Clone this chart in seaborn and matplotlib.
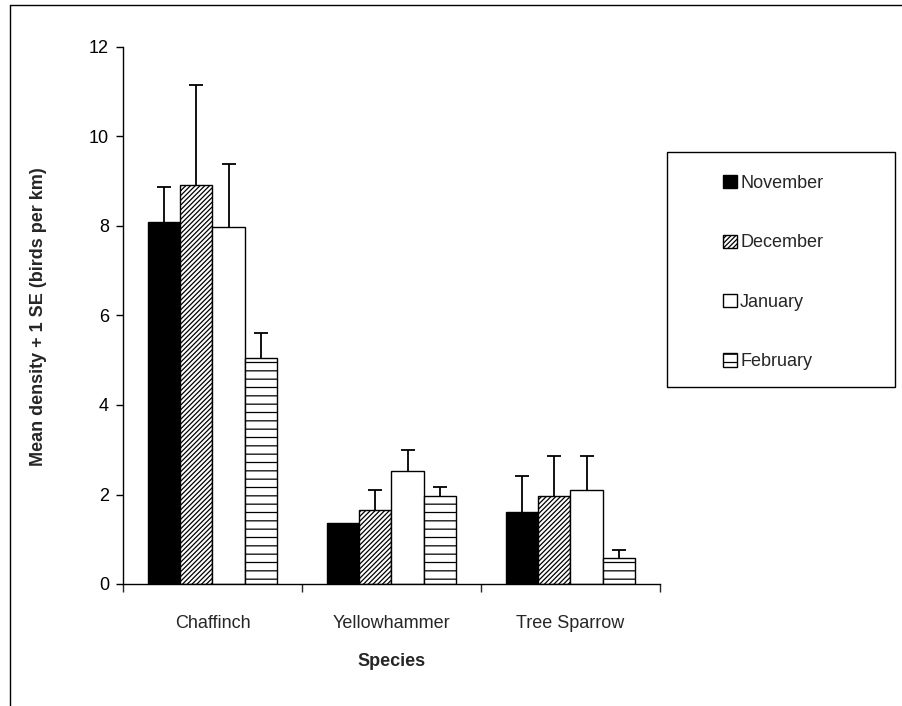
import numpy as np
import pandas as pd
import matplotlib
matplotlib.use("Agg")
import matplotlib.pyplot as plt
from matplotlib.patches import Patch, Rectangle
from matplotlib.lines import Line2D
import seaborn as sns

species = ["Chaffinch", "Yellowhammer", "Tree Sparrow"]
months = ["November", "December", "January", "February"]
nov = [8.10, 1.37, 1.62]
dec = [8.92, 1.65, 1.96]
jan = [7.97, 2.52, 2.09]
feb = [5.05, 1.97, 0.58]
nov_se = [0.78, 0.0, 0.80]
dec_se = [2.22, 0.44, 0.89]
jan_se = [1.41, 0.48, 0.76]
feb_se = [0.56, 0.20, 0.17]

means = [nov, dec, jan, feb]
ses = [nov_se, dec_se, jan_se, feb_se]
rows = []
for m, vals, es in zip(months, means, ses):
    for s, v, e in zip(species, vals, es):
        rows.append({"Species": s, "Month": m, "Density": v, "SE": e})
df = pd.DataFrame(rows)

sns.set_style("ticks")
plt.rcParams["font.family"] = ["Liberation Sans", "DejaVu Sans"]
plt.rcParams["hatch.linewidth"] = 0.9

fig = plt.figure(figsize=(9.03, 7.06), dpi=100)
W, H = 903, 706
ax = fig.add_axes([123 / W, 1 - 584 / H, (660 - 123) / W, (584 - 47) / H])

palette = {"November": "black", "December": "white", "January": "white", "February": "white"}
hatches = {"November": "", "December": "///////", "January": "", "February": "--"}

sns.barplot(data=df, x="Species", y="Density", hue="Month", order=species,
            hue_order=months, palette=palette, edgecolor="black", linewidth=1.0,
            width=0.725, errorbar=None, legend=False, saturation=1, ax=ax)

for cont, m, es in zip(ax.containers, months, ses):
    for bar, e in zip(cont, es):
        bar.set_hatch(hatches[m])
        bar.set_edgecolor("black")
        x = bar.get_x() + bar.get_width() / 2
        y = bar.get_height()
        if e <= 0:
            continue
        _, caps, _ = ax.errorbar([x], [y], yerr=[[0], [e]], fmt="none", ecolor="black",
                                 elinewidth=1.3, capsize=4.7, capthick=1.3, zorder=1)
        for c in caps:
            if np.allclose(c.get_ydata(), [y]):
                c.set_visible(False)

ax.set_xlim(-0.5, 2.5)
ax.set_ylim(0, 12)
ax.set_yticks(np.arange(0, 13, 2))
ax.tick_params(axis="y", direction="out", length=5, width=1, labelsize=13, pad=5, colors="black")
ax.tick_params(axis="x", which="major", length=0, labelsize=13, pad=22)
ax.set_xticks([-0.5, 0.5, 1.5, 2.5], minor=True)
ax.tick_params(axis="x", which="minor", direction="out", length=6, width=1)
sns.despine(ax=ax)
for sp in ["left", "bottom"]:
    ax.spines[sp].set_linewidth(1.0)
    ax.spines[sp].set_color("black")
ax.set_xlabel("")
ax.set_ylabel("")

fig.text(38.5 / W, 1 - 317 / H, "Mean density + 1 SE (birds per km)", rotation=90,
         ha="center", va="center", fontsize=13, fontweight="bold")
fig.text(391.5 / W, 1 - 662 / H, "Species", ha="center", va="center",
         fontsize=13, fontweight="bold")

# legend frame
fig.add_artist(Rectangle((667 / W, 1 - 387 / H), (895 - 667) / W, (387 - 152) / H,
                         transform=fig.transFigure, facecolor="white",
                         edgecolor="black", linewidth=1.0))
handles = [Patch(facecolor=palette[m], edgecolor="black", hatch=hatches[m], linewidth=1.0)
           for m in months]
leg = fig.legend(handles, months, loc="upper left",
                 bbox_to_anchor=(723 / W, 1 - 175 / H), frameon=False,
                 fontsize=13, handlelength=0.75, handleheight=0.75,
                 handletextpad=0.2, labelspacing=2.35, borderpad=0, borderaxespad=0)

# outer chart border (left and top)
fig.add_artist(Line2D([10 / W, 10 / W], [0, 1 - 5 / H], transform=fig.transFigure,
                      color="black", linewidth=1.0))
fig.add_artist(Line2D([10 / W, 1], [1 - 5 / H, 1 - 5 / H], transform=fig.transFigure,
                      color="black", linewidth=1.0))

fig.savefig("out.png", dpi=100)
